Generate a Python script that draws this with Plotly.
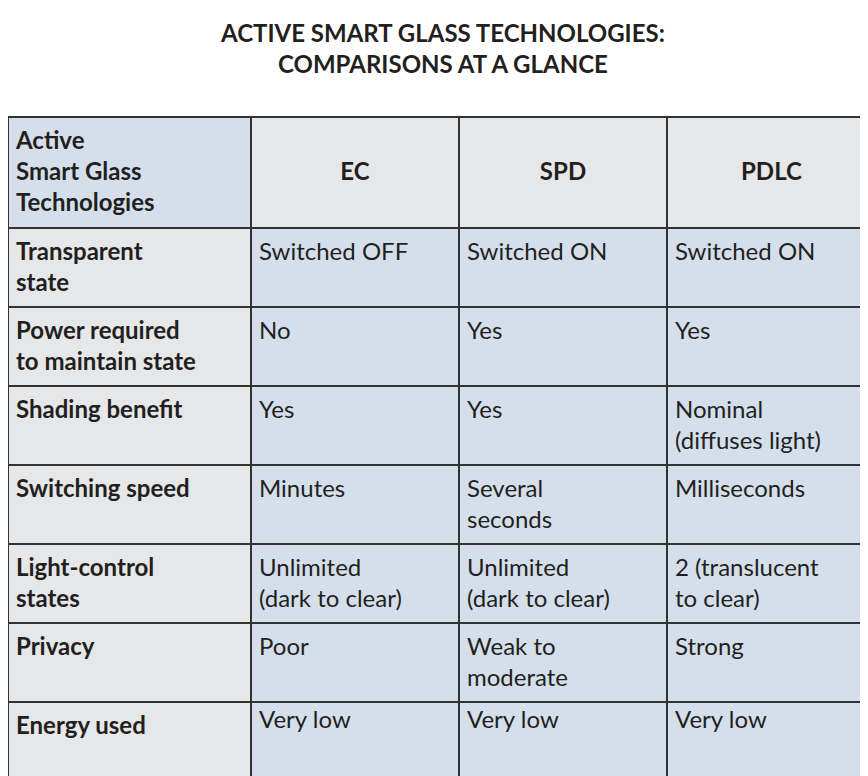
import plotly.graph_objects as go

headers = ["<b>Active<br>Smart Glass<br>Technologies</b>", "<b>&nbsp;<br>EC</b>", "<b>&nbsp;<br>SPD</b>", "<b>&nbsp;<br>PDLC</b>"]

features = ["<b>Transparent<br>state</b>", "<b>Power required<br>to maintain state</b>", "<b>Shading benefit</b>",
            "<b>Switching speed</b>", "<b>Light-control<br>states</b>", "<b>Privacy</b>", "<b>Energy used</b>"]
ec = ["Switched OFF", "No", "Yes", "Minutes", "Unlimited<br>(dark to clear)", "Poor", "Very low"]
spd = ["Switched ON", "Yes", "Yes", "Several<br>seconds", "Unlimited<br>(dark to clear)", "Weak to<br>moderate", "Very low"]
pdlc = ["Switched ON", "Yes", "Nominal<br>(diffuses light)", "Milliseconds", "2 (translucent<br>to clear)", "Strong", "Very low"]

gray = "#e6e7e8"
blue = "#d5dfeb"

cols = [features, ec, spd, pdlc]
# pad single-line cells so every cell in a row starts at the same height
padded = []
for col in cols:
    out = []
    for i, t in enumerate(col):
        row_multi = any("<br>" in c[i] for c in cols)
        out.append(t + "<br>&nbsp;" if row_multi and "<br>" not in t else t)
    padded.append(out)

fig = go.Figure(go.Table(
    columnwidth=[243, 208, 208, 209],
    header=dict(
        values=headers,
        fill_color=[blue, gray, gray, gray],
        line=dict(color="#333333", width=2),
        align=["left", "center", "center", "center"],
        font=dict(family="Lato, Open Sans, sans-serif", size=24, color="#231f20"),
        height=111,
    ),
    cells=dict(
        values=padded,
        fill_color=[gray, blue, blue, blue],
        line=dict(color="#333333", width=2),
        align="left",
        font=dict(family="Lato, Open Sans, sans-serif", size=24, color="#231f20"),
        height=79,
    ),
    domain=dict(x=[0, 1], y=[0, 0.86]),
))

fig.add_annotation(
    text="<b>ACTIVE SMART GLASS TECHNOLOGIES:<br>COMPARISONS AT A GLANCE</b>",
    x=0.5, y=0.99, xref="paper", yref="paper", xanchor="center", yanchor="top",
    showarrow=False, font=dict(family="Lato, Open Sans, sans-serif", size=24, color="#231f20"),
)

fig.update_layout(
    width=868, height=776,
    margin=dict(l=0, r=0, t=0, b=0),
    paper_bgcolor="white",
)

fig.write_html("out.html")
